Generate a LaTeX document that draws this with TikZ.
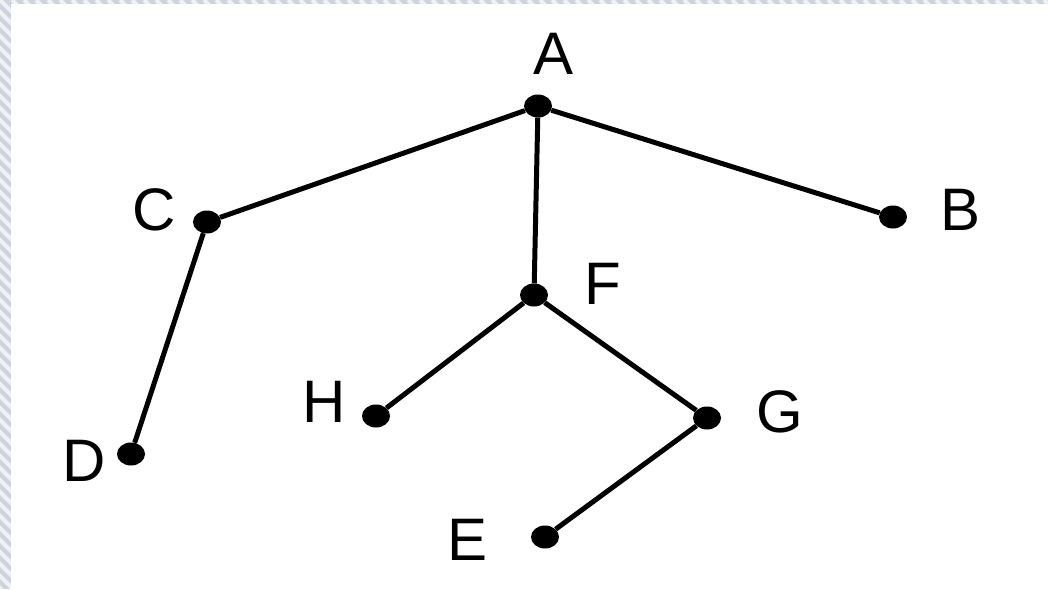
\documentclass[tikz,border=0pt]{standalone}
\usepackage{fontspec}
\setmainfont{Liberation Sans}
\usetikzlibrary{shapes.geometric}
\definecolor{frame}{RGB}{206,210,220}
\begin{document}
\begin{tikzpicture}[x=1pt,y=-1pt,
  vtx/.style={ellipse,fill=black,inner sep=0pt,minimum width=28pt,minimum height=23pt},
  lbl/.style={inner sep=0pt,font=\fontsize{60}{60}\selectfont},
  edge/.style={line width=5pt},
  hatch/.style={white,line width=4pt,opacity=0.7}]
\useasboundingbox (0,0) rectangle (1048,589);
\fill[white] (0,0) rectangle (1048,589);
\fill[frame] (0,0) rectangle (1048,4);
\fill[frame] (0,0) rectangle (11,589);
\begin{scope}
\clip (0,0) -- (1048,0) -- (1048,4) -- (11,4) -- (11,589) -- (0,589) -- cycle;
\foreach \k in {-600,-588,...,1060} \draw[hatch] (\k,0) -- (\k+600,600);
\end{scope}
% vertices
\node[vtx] (A) at (538,106) {};
\node[vtx] (B) at (893,217) {};
\node[vtx] (C) at (207,222) {};
\node[vtx] (D) at (131,454) {};
\node[vtx] (E) at (545,537) {};
\node[vtx] (F) at (534,295) {};
\node[vtx] (H) at (376,416) {};
\node[vtx] (G) at (707,418) {};
% edges
\draw[edge] (A) -- (C);
\draw[edge] (A) -- (B);
\draw[edge] (A) -- (F);
\draw[edge] (C) -- (D);
\draw[edge] (F) -- (H);
\draw[edge] (F) -- (G);
\draw[edge] (G) -- (E);
% labels
\node[lbl] (lA) at (554,54) {A};
\node[lbl] (lB) at (960,210) {B};
\node[lbl] (lC) at (154,210) {C};
\node[lbl] (lD) at (84,461) {D};
\node[lbl] (lE) at (468,540) {E};
\node[lbl] (lF) at (603,284) {F};
\node[lbl] (lH) at (324,402) {H};
\node[lbl] (lG) at (780,412) {G};
\end{tikzpicture}
\end{document}
